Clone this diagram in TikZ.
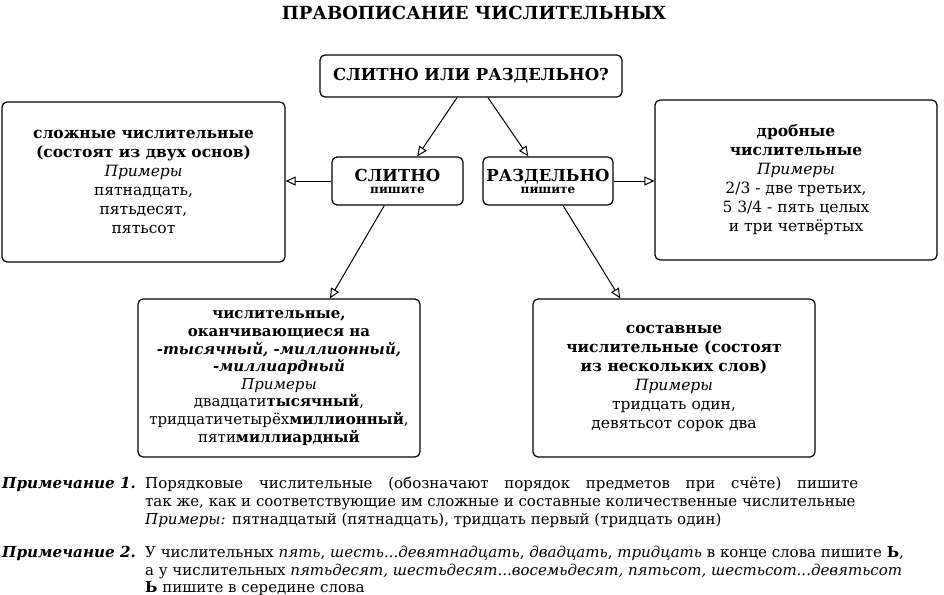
\documentclass[tikz,border=0pt]{standalone}
\usepackage{fontspec}
\setmainfont{DejaVu Serif}
\usetikzlibrary{arrows.meta,calc}

\tikzset{
  box/.style={draw, line width=1.2pt, rounded corners=5pt, align=center, inner sep=0pt,
    font=\fontsize{15.5}{19}\selectfont},
  link/.style={line width=1pt, -{Triangle[open,length=10pt,width=9pt,line width=1pt]}},
  note/.style={anchor=base west, inner sep=0pt, font=\fontsize{15}{18}\selectfont},
}
\newcommand{\ex}{\textit{Примеры}}
\newcommand{\bi}[1]{\textbf{\textit{#1}}}

\begin{document}
\begin{tikzpicture}[x=1pt,y=-1pt]
\useasboundingbox (0,0) rectangle (944,594);

\node[font=\bfseries\fontsize{18}{22}\selectfont] (title) at (474,13) {ПРАВОПИСАНИЕ ЧИСЛИТЕЛЬНЫХ};

\node[box, minimum width=302pt, minimum height=42pt, font=\bfseries\fontsize{16.5}{20}\selectfont] (quest) at (471,76) {СЛИТНО ИЛИ РАЗДЕЛЬНО?};

\node[box, minimum width=131pt, minimum height=48pt, font=\bfseries] (slitno) at (397.5,181)
  {\fontsize{16.5}{18}\selectfont СЛИТНО\\\fontsize{12}{18}\selectfont пишите};
\node[box, minimum width=130pt, minimum height=48pt, font=\bfseries] (razd) at (548,181)
  {\fontsize{16.5}{18}\selectfont РАЗДЕЛЬНО\\\fontsize{12}{18}\selectfont пишите};

\node[box, minimum width=283pt, minimum height=160pt] (compound) at (143.5,182)
  {\textbf{сложные числительные}\\\textbf{(состоят из двух основ)}\\\ex\\пятнадцать,\\пятьдесят,\\пятьсот};
\node[box, minimum width=282pt, minimum height=160pt] (fraction) at (796,180)
  {\textbf{дробные}\\\textbf{числительные}\\\ex\\2/3 - две третьих,\\5 3/4 - пять целых\\и три четвёртых};

\node[box, minimum width=282pt, minimum height=158pt, font=\fontsize{15}{17.6}\selectfont] (thousand) at (279,378)
  {\textbf{числительные,}\\\textbf{оканчивающиеся на}\\\bi{-тысячный, -миллионный,}\\\bi{-миллиардный}\\\ex\\двадцати\textbf{тысячный},\\тридцатичетырёх\textbf{миллионный},\\пяти\textbf{миллиардный}};
\node[box, minimum width=282pt, minimum height=158pt] (multi) at (674,378)
  {\textbf{составные}\\\textbf{числительные (состоят}\\\textbf{из нескольких слов)}\\\ex\\тридцать один,\\девятьсот сорок два};

% arrows
\draw[link] ($(quest.south west)!0.454!(quest.south east)$) -- ($(slitno.north west)!0.65!(slitno.north east)$);
\draw[link] ($(quest.south west)!0.556!(quest.south east)$) -- ($(razd.north west)!0.35!(razd.north east)$);
\draw[link] (slitno.west) -- (slitno.west -| compound.east);
\draw[link] (razd.east) -- (razd.east -| fraction.west);
\draw[link] ($(slitno.south west)!0.40!(slitno.south east)$) -- ($(thousand.north west)!0.68!(thousand.north east)$);
\draw[link] ($(razd.south west)!0.615!(razd.south east)$) -- ($(multi.north west)!0.31!(multi.north east)$);

% notes
\node[note, font=\fontsize{15.2}{18}\selectfont] (note1) at (2,488) {\bi{Примечание 1.}};
\node[note] (note1a) at (145,488) {\makebox[713pt][s]{Порядковые числительные (обозначают порядок предметов при счёте) пишите}};
\node[note] (note1b) at (145,506) {так же, как и соответствующие им сложные и составные количественные числительные};
\node[note] (note1c) at (145,524) {\textit{Примеры:} пятнадцатый (пятнадцать), тридцать первый (тридцать один)};
\node[note, font=\fontsize{15.2}{18}\selectfont] (note2) at (2,557) {\bi{Примечание 2.}};
\node[note] (note2a) at (145,557) {У числительных \textit{пять}, \textit{шесть...девятнадцать}, \textit{двадцать}, \textit{тридцать} в конце слова пишите \textbf{Ь},};
\node[note] (note2b) at (145,575) {а у числительных \textit{пятьдесят, шестьдесят...восемьдесят, пятьсот, шестьсот...девятьсот}};
\node[note] (note2c) at (145,592) {\textbf{Ь} пишите в середине слова};
\end{tikzpicture}
\end{document}
